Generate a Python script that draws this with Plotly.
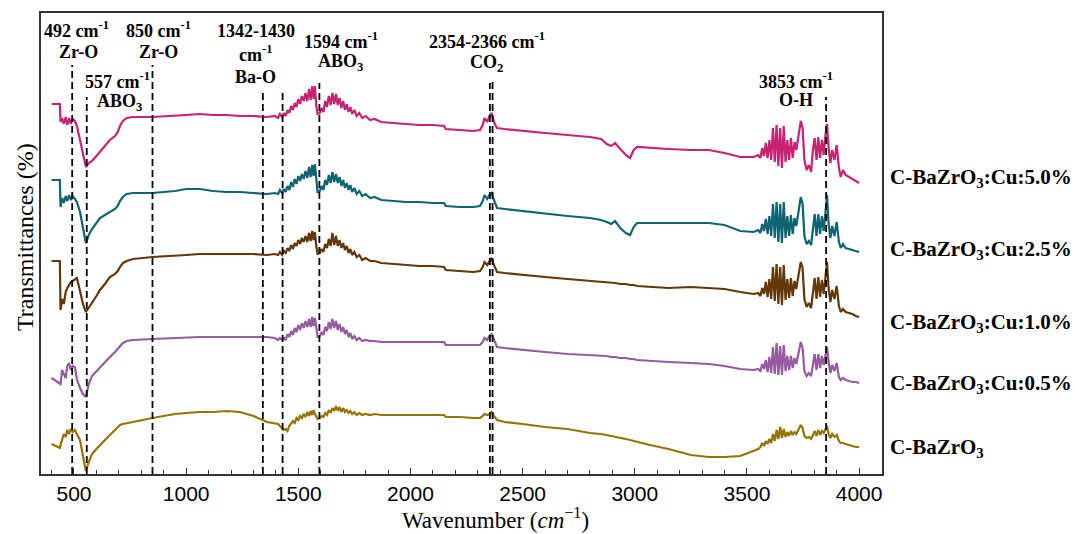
import plotly.graph_objects as go

# Shared wavenumber grid (cm^-1)
wavenumber = [
    400, 437, 440, 447, 455, 463, 470, 478, 486, 494,
    504, 513, 527, 540, 553, 566, 580, 600, 616, 638,
    660, 683, 695, 705, 718, 735, 763, 850, 950, 1000,
    1060, 1120, 1180, 1240, 1300, 1360, 1395, 1410, 1418, 1428,
    1436, 1444, 1452, 1460, 1468, 1476, 1484, 1492, 1500, 1508,
    1516, 1524, 1532, 1540, 1548, 1555, 1562, 1568, 1574, 1580,
    1586, 1596, 1604, 1612, 1620, 1628, 1636, 1644, 1652, 1660,
    1668, 1676, 1684, 1692, 1700, 1708, 1716, 1724, 1732, 1740,
    1750, 1760, 1772, 1785, 1800, 1820, 1840, 1870, 1920, 1980,
    2040, 2100, 2150, 2157, 2220, 2280, 2310, 2322, 2330, 2342,
    2352, 2362, 2372, 2386, 2420, 2500, 2600, 2700, 2800, 2850,
    2875, 2895, 2912, 2935, 2960, 2979, 2995, 3010, 3068, 3150,
    3250, 3330, 3400, 3470, 3530, 3550, 3560, 3568, 3576, 3584,
    3592, 3600, 3608, 3616, 3624, 3632, 3640, 3648, 3656, 3664,
    3672, 3680, 3688, 3696, 3704, 3712, 3720, 3730, 3740, 3748,
    3756, 3766, 3776, 3786, 3794, 3802, 3810, 3818, 3826, 3834,
    3842, 3850, 3857, 3864, 3872, 3880, 3890, 3900, 3910, 3918,
    3928, 3940, 3955, 3970, 3985, 4000,
]

# Stacked transmittance traces (offset, arbitrary units)
cu_5_0 = [
    370, 370, 352, 356, 350, 357, 349, 356, 350, 355,
    353, 348, 334, 319, 307, 311, 313, 318, 322, 328,
    334, 338, 342, 348, 353, 356, 357, 357, 358, 359,
    360, 359, 359, 358, 358, 357, 358, 356, 360, 357,
    361, 358, 364, 361, 368, 364, 371, 367, 375, 370,
    378, 373, 381, 373, 385, 374, 388, 375, 388, 368,
    360, 361, 366, 362, 373, 367, 378, 369, 381, 370,
    380, 369, 376, 366, 373, 364, 370, 362, 367, 360,
    364, 358, 361, 356, 358, 354, 355, 352, 351, 350,
    349, 349, 348, 345, 344, 343, 344, 349, 356, 352,
    358, 361, 352, 346, 345, 343, 341, 339, 337, 335,
    330, 328, 331, 325, 319, 316, 324, 327, 326, 325,
    324, 324, 321, 317, 317, 319, 316, 326, 318, 331,
    316, 334, 314, 346, 312, 349, 308, 346, 306, 348,
    312, 334, 314, 336, 316, 332, 324, 339, 353, 346,
    314, 304, 309, 302, 324, 336, 314, 337, 316, 334,
    319, 339, 350, 326, 311, 324, 314, 329, 306, 297,
    304, 299, 297, 295, 293, 291,
]
cu_2_5 = [
    294, 294, 267, 276, 271, 278, 273, 279, 274, 278,
    275, 272, 262, 245, 231, 239, 245, 251, 256, 259,
    262, 265, 268, 273, 277, 280, 281, 281, 283, 285,
    285, 283, 282, 282, 281, 280, 281, 280, 284, 281,
    285, 282, 288, 284, 292, 287, 295, 290, 298, 293,
    300, 295, 303, 296, 307, 297, 309, 298, 310, 291,
    282, 283, 288, 284, 294, 289, 299, 291, 302, 292,
    300, 291, 297, 288, 294, 286, 291, 284, 289, 282,
    286, 280, 283, 278, 280, 276, 277, 274, 273, 272,
    272, 271, 271, 268, 267, 267, 268, 273, 279, 275,
    279, 281, 274, 266, 265, 263, 260, 258, 256, 254,
    252, 250, 253, 246, 241, 239, 247, 251, 251, 251,
    251, 251, 249, 243, 242, 244, 241, 250, 243, 255,
    240, 258, 238, 270, 236, 272, 232, 270, 231, 272,
    236, 258, 238, 259, 240, 256, 248, 262, 277, 270,
    238, 230, 233, 229, 248, 260, 238, 260, 240, 258,
    243, 262, 279, 250, 236, 248, 238, 252, 232, 226,
    230, 226, 225, 224, 223, 222,
]
cu_1_0 = [
    213, 213, 164, 175, 170, 182, 186, 189, 192, 193,
    195, 196, 183, 170, 162, 166, 171, 178, 184, 190,
    197, 200, 203, 207, 211, 213, 215, 217, 218, 219,
    220, 220, 220, 220, 220, 219, 220, 219, 222, 219,
    223, 221, 226, 223, 229, 225, 231, 228, 234, 230,
    236, 232, 238, 232, 241, 233, 243, 234, 242, 228,
    220, 221, 225, 222, 230, 226, 235, 228, 241, 229,
    238, 228, 234, 226, 231, 224, 228, 221, 225, 219,
    222, 217, 219, 214, 216, 213, 213, 211, 210, 209,
    208, 208, 207, 204, 203, 202, 203, 207, 212, 209,
    213, 216, 209, 202, 201, 199, 197, 195, 193, 192,
    192, 191, 191, 190, 190, 189, 189, 188, 187, 186,
    187, 186, 185, 182, 180, 181, 178, 186, 180, 192,
    177, 195, 175, 207, 173, 210, 170, 207, 169, 209,
    174, 195, 176, 196, 178, 193, 185, 199, 212, 206,
    175, 167, 171, 166, 185, 196, 175, 197, 177, 194,
    180, 199, 212, 186, 172, 184, 175, 188, 168, 162,
    165, 162, 161, 160, 158, 157,
]
cu_0_5 = [
    96, 91, 90, 104, 100, 96, 108, 111, 104, 108,
    107, 95, 86, 80, 77, 90, 98, 103, 107, 112,
    117, 122, 125, 128, 131, 133, 134, 135, 136, 137,
    137, 137, 137, 137, 137, 137, 136, 134, 136, 134,
    136, 134, 140, 137, 143, 139, 146, 142, 149, 144,
    151, 146, 153, 147, 155, 147, 157, 148, 156, 143,
    137, 138, 142, 139, 147, 143, 152, 145, 155, 146,
    153, 144, 150, 142, 147, 140, 144, 137, 141, 135,
    138, 134, 136, 133, 134, 133, 133, 132, 132, 132,
    132, 132, 132, 129, 129, 129, 129, 132, 136, 134,
    138, 140, 134, 127, 126, 124, 122, 120, 119, 118,
    118, 117, 117, 116, 116, 115, 115, 114, 113, 112,
    111, 110, 108, 105, 104, 105, 103, 110, 105, 114,
    102, 117, 101, 127, 100, 131, 99, 128, 99, 129,
    103, 118, 104, 118, 106, 116, 110, 121, 132, 126,
    103, 98, 101, 98, 111, 120, 104, 120, 106, 118,
    109, 121, 127, 112, 101, 109, 103, 111, 97, 94,
    96, 94, 93, 92, 92, 91,
]
pure = [
    30, 26, 29, 34, 40, 37, 44, 40, 45, 42,
    44, 40, 34, 18, 3, 12, 20, 25, 29, 34,
    39, 44, 47, 49, 50, 51, 52, 56, 60, 61,
    62, 62, 63, 62, 58, 52, 51, 50, 48, 46,
    44, 45, 43, 48, 50, 53, 51, 56, 54, 58,
    56, 60, 57, 62, 58, 63, 59, 64, 60, 57,
    55, 56, 58, 57, 61, 59, 64, 61, 66, 63,
    68, 63, 67, 62, 66, 62, 64, 61, 63, 60,
    62, 59, 61, 59, 60, 59, 60, 59, 59, 59,
    59, 59, 59, 57, 57, 56, 56, 58, 60, 59,
    60, 62, 58, 54, 52, 50, 47, 45, 41, 40,
    39, 38, 37, 36, 35, 34, 33, 32, 29, 25,
    19, 17, 17, 18, 23, 25, 27, 31, 28, 33,
    30, 35, 31, 40, 33, 44, 35, 47, 36, 45,
    37, 42, 38, 43, 39, 42, 40, 44, 49, 46,
    38, 36, 37, 35, 40, 43, 38, 44, 39, 43,
    41, 44, 48, 40, 36, 40, 37, 39, 33, 31,
    31, 30, 29, 28, 27, 27,
]

sample_names = [
    "C-BaZrO<sub>3</sub>:Cu:5.0%",
    "C-BaZrO<sub>3</sub>:Cu:2.5%",
    "C-BaZrO<sub>3</sub>:Cu:1.0%",
    "C-BaZrO<sub>3</sub>:Cu:0.5%",
    "C-BaZrO<sub>3</sub>",
]
series = [cu_5_0, cu_2_5, cu_1_0, cu_0_5, pure]
colors = ["#C82373", "#0E6473", "#64370A", "#965AA0", "#967305"]
label_y = [296, 224, 151, 90, 26]

# Assigned band positions (cm^-1) and the height where each marker starts
band_positions = [492, 557, 850, 1342, 1430, 1594, 2354, 2366, 3853]
band_tops = [409, 377, 409, 384, 384, 391, 391, 395, 377]

# Band annotations: (x, y, text)
band_labels = [
    (513, 445, "492 cm<sup>-1</sup>"), (522, 422, "Zr-O"),
    (875, 445, "850 cm<sup>-1</sup>"), (875, 422, "Zr-O"),
    (696, 394, "557 cm<sup>-1</sup>"), (705, 372, "ABO<sub>3</sub>"),
    (1311, 443, "1342-1430"), (1311, 421, "cm<sup>-1</sup>"), (1311, 397, "Ba-O"),
    (1690, 434, "1594 cm<sup>-1</sup>"), (1688, 412, "ABO<sub>3</sub>"),
    (2341, 434, "2354-2366 cm<sup>-1</sup>"), (2341, 411, "CO<sub>2</sub>"),
    (3719, 394, "3853 cm<sup>-1</sup>"), (3719, 374, "O-H"),
]

serif = "Liberation Serif, Times New Roman, serif"

fig = go.Figure()
for vals, col in zip(series, colors):
    fig.add_trace(go.Scatter(
        x=wavenumber, y=vals, mode="lines",
        line=dict(color=col, width=2.2), showlegend=False,
    ))

for xb, yt in zip(band_positions, band_tops):
    fig.add_shape(type="line", xref="x", yref="y", x0=xb, x1=xb, y0=0, y1=yt,
                  line=dict(color="black", width=1.8, dash="7px,4px"))

for xa, ya, txt in band_labels:
    fig.add_annotation(x=xa, y=ya, xref="x", yref="y", text="<b>%s</b>" % txt,
                       showarrow=False, xanchor="center", yanchor="middle",
                       font=dict(family=serif, size=18, color="black"))

for name, yl in zip(sample_names, label_y):
    fig.add_annotation(x=1.007, y=yl, xref="paper", yref="y", text="<b>%s</b>" % name,
                       showarrow=False, xanchor="left", yanchor="middle",
                       font=dict(family=serif, size=21, color="black"))

# Axis titles
fig.add_annotation(x=0.54, y=-0.096, xref="paper", yref="paper",
                   text="Wavenumber (<i>cm</i><sup>\u22121</sup>)", showarrow=False,
                   xanchor="center", yanchor="middle",
                   font=dict(family=serif, size=23, color="black"))
fig.add_annotation(x=-0.019, y=0.514, xref="paper", yref="paper",
                   text="Transmittances (%)", showarrow=False, textangle=-90,
                   xanchor="center", yanchor="middle",
                   font=dict(family=serif, size=24, color="black"))

fig.update_xaxes(
    range=[353, 4102], tick0=500, dtick=500, ticks="inside", ticklen=6,
    tickwidth=1.2, tickcolor="#333", showgrid=False, zeroline=False,
    showline=True, mirror=True, linecolor="#333", linewidth=1.5,
    tickfont=dict(family="Liberation Sans, Arial, sans-serif", size=21, color="black"),
    minor=dict(ticks="inside", ticklen=4, dtick=100, tick0=0, tickcolor="#333", tickwidth=1),
)
fig.update_yaxes(
    range=[0, 461], showticklabels=False, ticks="", showgrid=False, zeroline=False,
    showline=True, mirror=True, linecolor="#333", linewidth=1.5,
)
fig.update_layout(
    width=1075, height=534,
    margin=dict(l=41, r=193, t=13, b=60),
    plot_bgcolor="white", paper_bgcolor="white",
)

fig.write_html("out.html")
